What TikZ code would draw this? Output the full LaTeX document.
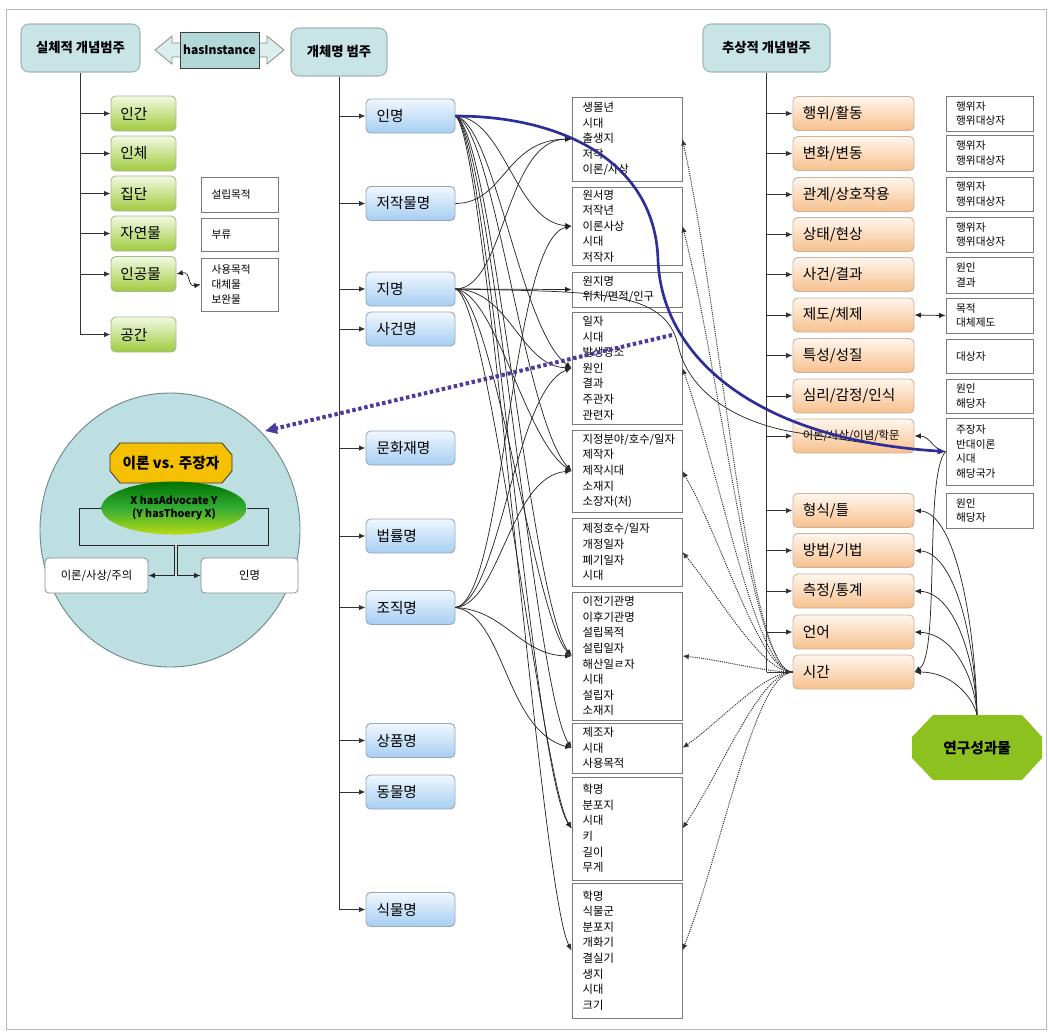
\documentclass[tikz,border=0pt]{standalone}
\usepackage{fontspec}
\setmainfont{Noto Sans CJK KR}
\usetikzlibrary{arrows.meta,shapes.geometric}

\definecolor{titlefill}{HTML}{C8E4E5}
\definecolor{titleline}{HTML}{9FB5B6}
\definecolor{hbody}{HTML}{B2D8D8}
\definecolor{hhead}{HTML}{DAEEEE}
\definecolor{gtop}{HTML}{F3F9E2}
\definecolor{gbot}{HTML}{9FCB3E}
\definecolor{gline}{HTML}{A8B890}
\definecolor{btop}{HTML}{F0F7FE}
\definecolor{bbot}{HTML}{A6CEF2}
\definecolor{bline}{HTML}{98A8B8}
\definecolor{otop}{HTML}{FFF6EE}
\definecolor{obot}{HTML}{F7C08C}
\definecolor{oline}{HTML}{C8B4A0}
\definecolor{mline}{HTML}{7A7A7A}
\definecolor{circfill}{HTML}{BDDFE2}
\definecolor{circline}{HTML}{6E8A8C}
\definecolor{gold}{HTML}{F4C000}
\definecolor{ygreen}{HTML}{8CC11F}
\definecolor{bluel}{HTML}{2E2E9A}
\definecolor{purp}{HTML}{4A3C9C}
\definecolor{framec}{HTML}{B8B8B8}

\begin{document}
\begin{tikzpicture}[x=0.75pt,y=-0.75pt,
  sz/.style 2 args={minimum width=#1*0.75pt,minimum height=#2*0.75pt},
  ht/.style={minimum height=#1*0.75pt},
  arr/.style={-{Latex[length=4.8pt,width=4pt]}},
  con/.style={arr,draw=black!85,line width=0.55pt},
  dcon/.style={arr,draw=black!80,line width=0.75pt,dash pattern=on 0.8pt off 0.8pt},
  vline/.style={draw=black!80,line width=0.75pt},
  title/.style={draw=titleline,fill=titlefill,rounded corners=6pt,line width=0.8pt,
    inner sep=2pt,font=\bfseries\fontsize{10}{12}\selectfont},
  catbox/.style={rounded corners=3.5pt,line width=0.7pt,align=left,inner xsep=7pt,
    inner ysep=1pt,font=\fontsize{11}{12}\selectfont},
  gbox/.style={catbox,draw=gline,top color=gtop,bottom color=gbot,
    minimum width=48.75pt,minimum height=26.25pt,text width=34.75pt},
  bbox/.style={catbox,draw=bline,top color=btop,bottom color=bbot,
    minimum width=66.75pt,minimum height=25.5pt,text width=51pt},
  obox/.style={catbox,draw=oline,top color=otop,bottom color=obot,
    minimum width=90.75pt,minimum height=25.5pt,text width=76pt},
  mbox/.style={draw=mline,fill=white,line width=0.6pt,minimum width=82.5pt,
    text width=66.5pt,inner xsep=8pt,inner ysep=1pt,align=left,
    font=\fontsize{8.5}{11.7}\selectfont},
  rbox/.style={draw=mline,fill=white,line width=0.6pt,minimum width=65.25pt,
    text width=50pt,inner xsep=7.5pt,inner ysep=1pt,align=left,
    font=\fontsize{8}{11}\selectfont},
  lbox/.style={draw=mline,fill=white,line width=0.6pt,minimum width=57.75pt,
    text width=42pt,inner xsep=7.5pt,inner ysep=1pt,align=left,
    font=\fontsize{8}{11}\selectfont},
  wbox/.style={draw=black!45,fill=white,rounded corners=3pt,line width=0.6pt,
    font=\fontsize{8.5}{10}\selectfont}
]
\useasboundingbox (0,0) rectangle (1048,1032);
\draw[framec,line width=0.75pt] (6,9) rectangle (1046,1029);

% ---------- category titles ----------
\node[title,sz={119}{48}] (sil) at (80.5,48) {실체적 개념범주};
\node[title,sz={96}{48}] (gae) at (339,52) {개체명 범주};
\node[title,sz={127}{48}] (chu) at (766.5,48) {추상적 개념범주};

% hasInstance double arrow
\path[draw=black!45,fill=hhead,line width=0.6pt]
  (181,43) -- (172,43) -- (172,36) -- (155,50) -- (172,64) -- (172,57) -- (181,57) -- cycle;
\path[draw=black!45,fill=hhead,line width=0.6pt]
  (258,43) -- (267,43) -- (267,36) -- (284,50) -- (267,64) -- (267,57) -- (258,57) -- cycle;
\node[draw=black!75,fill=hbody,sz={79}{36},inner sep=1pt,line width=0.7pt,
  font=\bfseries\fontsize{9}{10}\selectfont] (hasi) at (219.5,50) {hasInstance};

% ---------- concrete concepts ----------
\node[gbox] (g1) at (143.5,113.5) {인간};
\node[gbox] (g2) at (143.5,153.5) {인체};
\node[gbox] (g3) at (143.5,193.5) {집단};
\node[gbox] (g4) at (143.5,233.5) {자연물};
\node[gbox] (g5) at (143.5,274) {인공물};
\node[gbox] (g6) at (143.5,334.5) {공간};

\node[lbox,ht=35] (l1) at (239.5,194.5) {설립목적};
\node[lbox,ht=33] (l2) at (239.5,234.5) {부류};
\node[lbox,ht=53] (l3) at (239.5,284.5) {사용목적\\대체물\\보완물};

\draw[vline] (sil.south) -- (sil.south |- g6);
\foreach \g in {g1,g2,g3,g4,g5,g6}
  \draw[arr,vline] (sil.south |- \g) -- (\g.west);
\draw[{Latex[length=4.8pt,width=4pt]}-{Latex[length=4.8pt,width=4pt]},draw=black!85,line width=0.55pt]
  (g5.east) .. controls (191,271) and (187,287) .. (l3.west);

% ---------- named entities ----------
\node[bbox] (inm) at (410.5,116) {인명};
\node[bbox] (jak) at (410.5,203.5) {저작물명};
\node[bbox] (jim) at (410.5,289) {지명};
\node[bbox] (sag) at (410.5,329) {사건명};
\node[bbox] (mun) at (410.5,448) {문화재명};
\node[bbox] (beob) at (410.5,536) {법률명};
\node[bbox] (jo) at (410.5,607.5) {조직명};
\node[bbox] (sang) at (410.5,740.5) {상품명};
\node[bbox] (dong) at (410.5,792) {동물명};
\node[bbox] (sik) at (410.5,909.5) {식물명};

\draw[vline] (gae.south) -- (gae.south |- sik);
\foreach \b in {inm,jak,jim,sag,mun,beob,jo,sang,dong,sik}
  \draw[arr,vline] (gae.south |- \b) -- (\b.west);

% attribute lists
\node[mbox,ht=84] (m1) at (627,139) {생몰년\\시대\\출생지\\저작\\이론/사상};
\node[mbox,ht=78] (m2) at (627,226) {원서명\\저작년\\이론사상\\시대\\저작자};
\node[mbox,ht=35] (m3) at (627,289.5) {원지명\\위치/면적/인구};
\node[mbox,ht=112] (m4) at (627,368) {일자\\시대\\발생장소\\원인\\결과\\주관자\\관련자};
\node[mbox,ht=82] (m5) at (627,471) {지정분야/호수/일자\\제작자\\제작시대\\소재지\\소장자(처)};
\node[mbox,ht=68] (m6) at (627,552) {제정호수/일자\\개정일자\\폐기일자\\시대};
\node[mbox,ht=128] (m7) at (627,656) {이전기관명\\이후기관명\\설립목적\\설립일자\\해산일ㄹ자\\시대\\설립자\\소재지};
\node[mbox,ht=50] (m8) at (627,748) {제조자\\시대\\사용목적};
\node[mbox,ht=103] (m9) at (627,828.5) {학명\\분포지\\시대\\키\\길이\\무게};
\node[mbox,ht=135] (m10) at (627,950.5) {학명\\식물군\\분포지\\개화기\\결실기\\생지\\시대\\크기};

% ---------- abstract concepts ----------
\node[obox] (hw) at (853.5,113.5) {행위/활동};
\node[obox] (bh) at (853.5,153.5) {변화/변동};
\node[obox] (gw) at (853.5,194.5) {관계/상호작용};
\node[obox] (st) at (853.5,234.5) {상태/현상};
\node[obox] (sk) at (853.5,274.5) {사건/결과};
\node[obox] (jd) at (853.5,315) {제도/체제};
\node[obox] (ts) at (853.5,355.5) {특성/성질};
\node[obox] (sr) at (853.5,396) {심리/감정/인식};
\node[obox,font=\fontsize{8.5}{10}\selectfont] (ir) at (853.5,436) {이론/사상/이념/학문};
\node[obox] (hs) at (853.5,510.5) {형식/틀};
\node[obox] (bb) at (853.5,550.5) {방법/기법};
\node[obox] (cs) at (853.5,591) {측정/통계};
\node[obox] (eo) at (853.5,632) {언어};
\node[obox] (sg) at (853.5,672) {시간};

\node[rbox,ht=35] (r1) at (989.5,113.5) {행위자\\행위대상자};
\node[rbox,ht=36] (r2) at (989.5,153) {행위자\\행위대상자};
\node[rbox,ht=34] (r3) at (989.5,194) {행위자\\행위대상자};
\node[rbox,ht=35] (r4) at (989.5,234.5) {행위자\\행위대상자};
\node[rbox,ht=36] (r5) at (989.5,275) {원인\\결과};
\node[rbox,ht=35] (r6) at (989.5,315.5) {목적\\대체제도};
\node[rbox,ht=34] (r7) at (989.5,356) {대상자};
\node[rbox,ht=34] (r8) at (989.5,396) {원인\\해당자};
\node[rbox,ht=67] (r9) at (989.5,451.5) {주장자\\반대이론\\시대\\해당국가};
\node[rbox,ht=35] (r10) at (989.5,510.5) {원인\\해당자};

\draw[vline] (chu.south) -- (chu.south |- sg);
\foreach \o in {hw,bh,gw,st,sk,jd,ts,sr,ir,hs,bb,cs,eo,sg}
  \draw[arr,vline] (chu.south |- \o) -- (\o.west);
\draw[{Latex[length=4.8pt,width=4pt]}-{Latex[length=4.8pt,width=4pt]},draw=black!85,line width=0.6pt]
  (jd.east) -- (r6.west);

% research output
\path[fill=ygreen] (933,715) -- (1022,715) -- (1042,737) -- (1042,758) -- (1022,780)
  -- (933,780) -- (912,758) -- (912,737) -- cycle;
\node[sz={130}{65},inner sep=0pt,font=\bfseries\fontsize{11}{13}\selectfont] (yg) at (977,747.5) {연구성과물};
\draw[con] (yg.north) .. controls (975,620) and (955,513) .. (hs.east);
\draw[con] (yg.north) .. controls (975,640) and (955,553) .. (bb.east);
\draw[con] (yg.north) .. controls (975,660) and (955,593) .. (cs.east);
\draw[con] (yg.north) .. controls (975,680) and (955,634) .. (eo.east);
\draw[con] (yg.north) .. controls (972,695) and (950,672) .. (sg.east);
\draw[con] (r9.west) .. controls (935,452) and (930,436) .. (ir.east);
\draw[con] (r9.west) .. controls (924,475) and (940,655) .. (sg.east);

% ---------- links from names to attribute lists ----------
\draw[con] (inm.east) .. controls (505,118) and (515,222) .. (m2.west);
\draw[con] (inm.east) .. controls (495,124) and (520,330) .. (m4.west);
\draw[con] (inm.east) .. controls (494,127) and (524,420) .. (m5.west);
\draw[con] (inm.east) .. controls (492,130) and (530,600) .. (m7.west);
\draw[con] (inm.east) .. controls (490,132) and (534,690) .. (m8.west);
\draw[con] (inm.east) .. controls (488,134) and (532,770) .. (m9.west);
\draw[con] (inm.east) .. controls (486,136) and (540,890) .. (m10.west);
\draw[con] (jak.east) .. controls (505,203) and (505,140) .. (m1.west);
\draw[con] (jim.east) .. controls (505,289) and (505,140) .. (m1.west);
\draw[con] (jim.east) -- (m3.west);
\draw[con] (jim.east) .. controls (510,290) and (520,366) .. (m4.west);
\draw[con] (jim.east) .. controls (496,294) and (525,440) .. (m5.west);
\draw[con] (jim.east) .. controls (493,297) and (535,620) .. (m7.west);
\draw[con] (jim.east) .. controls (490,300) and (542,780) .. (m9.west);
\draw[con] (jo.east) .. controls (505,600) and (510,240) .. (m2.west);
\draw[con] (jo.east) .. controls (500,600) and (515,390) .. (m4.west);
\draw[con] (jo.east) .. controls (500,604) and (510,476) .. (m5.west);
\draw[con] (jo.east) .. controls (505,610) and (520,655) .. (m7.west);
\draw[con] (jo.east) .. controls (505,615) and (505,730) .. (m8.west);

% time links
\foreach \m/\cy/\ca in {m1/320/748,m2/380/752,m4/480/756,m5/540/760,m6/600/762,
                        m7/660/764,m8/720/764,m9/770/760,m10/850/755}
  \draw[dcon] (sg.west) .. controls (\ca,672) and (722,\cy) .. (\m.east);

% place name to theory, and person name to theory
\draw[con] (jim.east) .. controls (600,292) and (665,290) .. (678,345)
  .. controls (690,400) and (750,426) .. (800,433)
  .. controls (860,442) and (905,450) .. (r9.west);
\draw[bluel,line width=2pt,-{Latex[length=6pt,width=5pt]}] (inm.east)
  .. controls (560,116) and (655,160) .. (658,260)
  .. controls (662,360) and (760,440) .. (r9.west);

% ---------- theory vs advocate ----------
\node[ellipse,draw=circline,fill=circfill,line width=0.7pt,sz={260}{274}] (circ) at (170,530) {};
\path[draw=black!80,fill=gold,line width=0.6pt] (120,443) -- (222,443) -- (232,455) -- (232,471)
  -- (222,483) -- (120,483) -- (110,471) -- (110,455) -- cycle;
\node[sz={122}{40},inner sep=0pt,font=\bfseries\fontsize{11}{13}\selectfont] (vs) at (171,463) {이론 vs. 주장자};
\node[ellipse,sz={145}{53},inner sep=0pt,top color=green!45!black,bottom color=ygreen!60!yellow,
  middle color=green!60!black!80,align=center,font=\bfseries\fontsize{8}{9.5}\selectfont]
  (adv) at (174,508) {X hasAdvocate Y\\(Y hasThoery X)};
\node[wbox,sz={103}{35}] (c1) at (96.5,575.5) {이론/사상/주의};
\node[wbox,sz={97}{35}] (c2) at (249.5,575.5) {인명};
\draw[arr,draw=black!85,line width=0.6pt] (adv.west) -- ++(-22,0) |- (174,545) |- (c1.east);
\draw[arr,draw=black!85,line width=0.6pt] (adv.east) -- ++(22,0) |- (177,545) |- (c2.west);

\coordinate (pstart) at (672,335);
\coordinate (pend) at (265,431);
\draw[purp,line width=3pt,dash pattern=on 2.6pt off 2pt,-{Triangle[length=9pt,width=8pt]}]
  (pstart) -- (pend);
\end{tikzpicture}
\end{document}
